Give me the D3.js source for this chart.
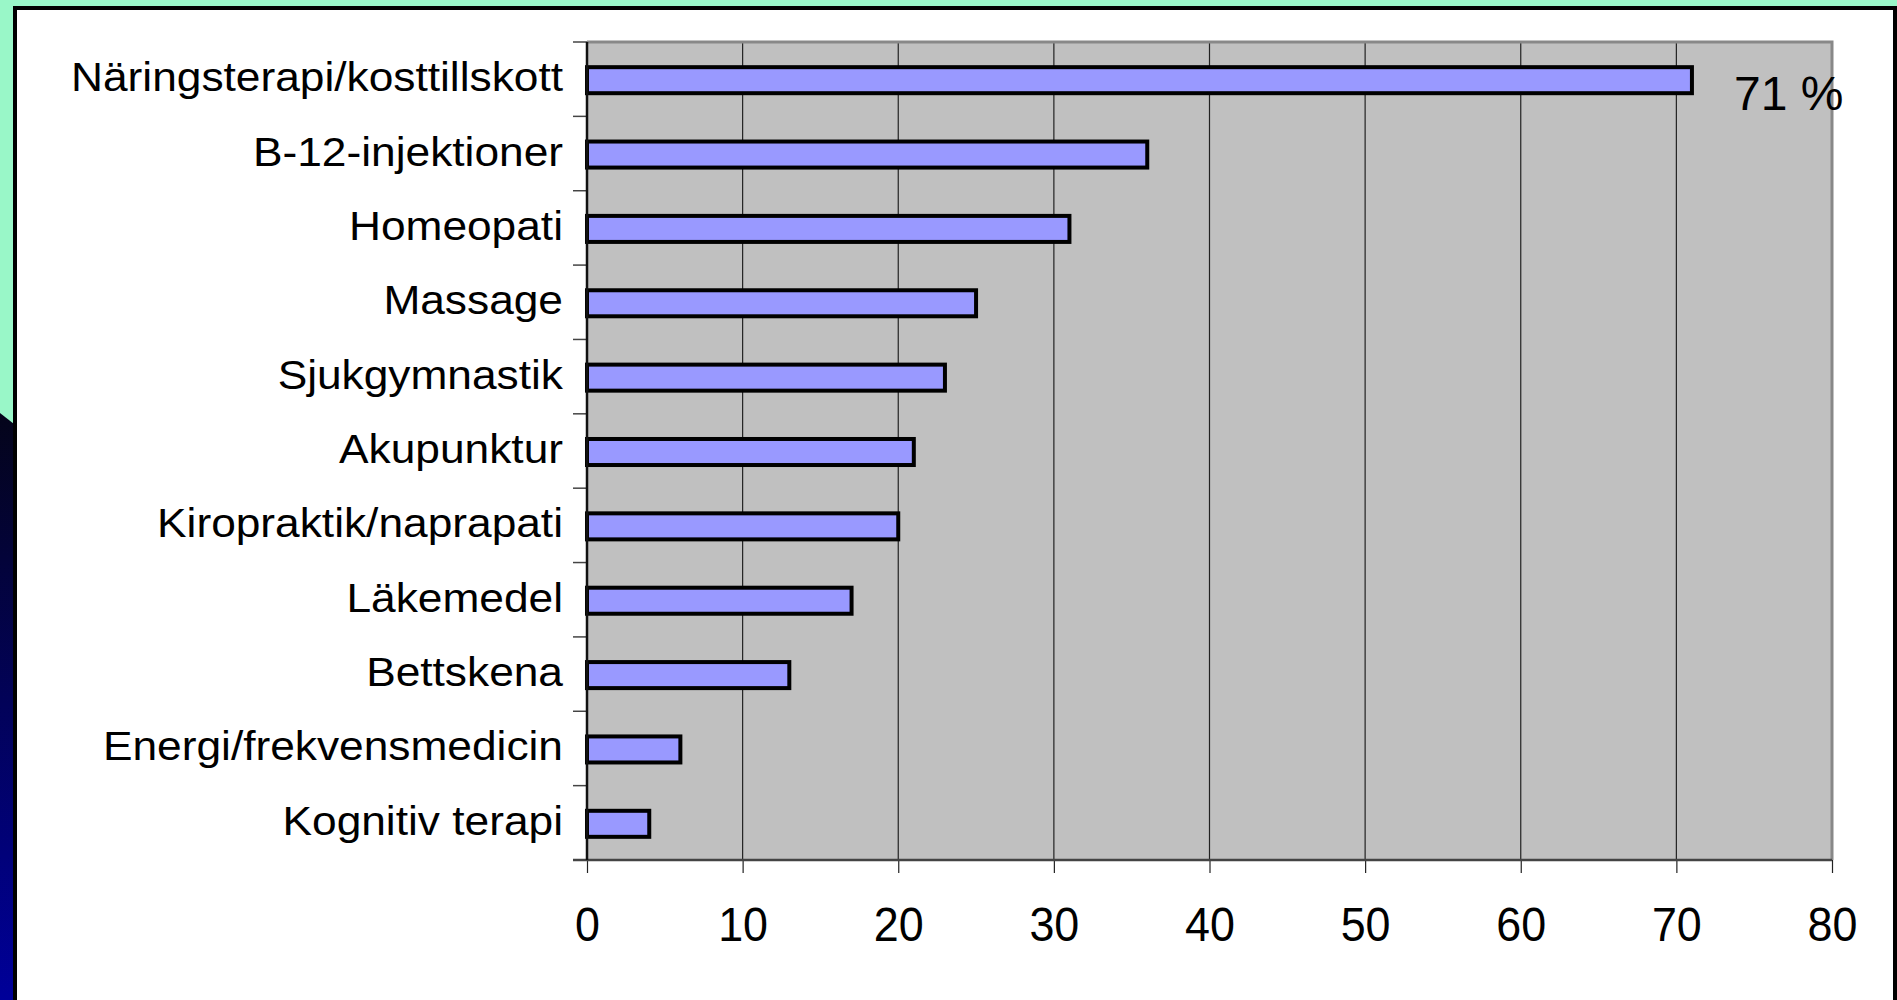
<!DOCTYPE html>
<html>
<head>
<meta charset="utf-8">
<script src="https://cdn.jsdelivr.net/npm/d3@7"></script>
<style>
  html, body { margin: 0; padding: 0; background: #99F7C8; }
  svg { display: block; }
  text { font-family: "Liberation Sans", Arial, sans-serif; fill: #000; }
</style>
</head>
<body>
<svg id="chart" width="1897" height="1000"></svg>
<script>
// ---- data ----
const categories = [
  "Näringsterapi/kosttillskott",
  "B-12-injektioner",
  "Homeopati",
  "Massage",
  "Sjukgymnastik",
  "Akupunktur",
  "Kiropraktik/naprapati",
  "Läkemedel",
  "Bettskena",
  "Energi/frekvensmedicin",
  "Kognitiv terapi"
];
const values = [71, 36, 31, 25, 23, 21, 20, 17, 13, 6, 4];
const xTicks = [0, 10, 20, 30, 40, 50, 60, 70, 80];
const xDomain = [0, 80];
const annotationText = "71 %";

// ---- layout ----
const W = 1897, H = 1000;
const plot = { left: 587, right: 1832, top: 42, bottom: 860 };

const svg = d3.select("#chart");

// background
svg.append("rect").attr("x", 0).attr("y", 0).attr("width", W).attr("height", H).attr("fill", "#99F7C8");

// left dark decoration
const defs = svg.append("defs");
const grad = defs.append("linearGradient").attr("id", "strip")
  .attr("x1", 0).attr("y1", 0).attr("x2", 0).attr("y2", 1);
grad.append("stop").attr("offset", "0%").attr("stop-color", "#04041a");
grad.append("stop").attr("offset", "100%").attr("stop-color", "#000099");
svg.append("polygon")
  .attr("points", "0,413 14,424 14,1000 0,1000")
  .attr("fill", "url(#strip)");

// white panel
svg.append("rect")
  .attr("x", 15).attr("y", 8).attr("width", 1880).attr("height", 1010)
  .attr("fill", "#ffffff").attr("stroke", "#000").attr("stroke-width", 4);

// scales
const x = d3.scaleLinear().domain(xDomain).range([plot.left, plot.right]);
const y = d3.scaleBand().domain(categories).range([plot.top, plot.bottom]).paddingInner(0).paddingOuter(0);

// plot background
svg.append("rect")
  .attr("x", x(xDomain[0])).attr("y", plot.top)
  .attr("width", x(xDomain[1]) - x(xDomain[0])).attr("height", plot.bottom - plot.top)
  .attr("fill", "#c0c0c0");

// gridlines
svg.append("g").selectAll("line")
  .data(xTicks.filter(t => t > xDomain[0] && t < xDomain[1]))
  .join("line")
  .attr("x1", d => x(d)).attr("x2", d => x(d))
  .attr("y1", plot.top).attr("y2", plot.bottom)
  .attr("stroke", "#222").attr("stroke-width", 1.2);

// plot top & right border (gray)
svg.append("path")
  .attr("d", `M${x(xDomain[0])},${plot.top}H${x(xDomain[1])}V${plot.bottom}`)
  .attr("fill", "none").attr("stroke", "#888").attr("stroke-width", 3);

// bars
const barFrac = 0.35;
svg.append("g").selectAll("rect")
  .data(categories.map((c, i) => ({ c, v: values[i] })))
  .join("rect")
  .attr("x", x(0))
  .attr("y", d => y(d.c) + y.bandwidth() * (0.5 - barFrac / 2) + 1)
  .attr("width", d => x(d.v) - x(0))
  .attr("height", y.bandwidth() * barFrac)
  .attr("fill", "#9999ff")
  .attr("stroke", "#000").attr("stroke-width", 4);

// category boundary ticks
const bounds = categories.map(c => y(c)).concat([y(categories[categories.length - 1]) + y.bandwidth()]);
svg.append("g").selectAll("line")
  .data(bounds)
  .join("line")
  .attr("x1", x(0) - 14).attr("x2", x(0))
  .attr("y1", d => d).attr("y2", d => d)
  .attr("stroke", "#444").attr("stroke-width", 1.5);

// x axis
const xAxis = d3.axisBottom(x).tickValues(xTicks).tickSize(13).tickSizeOuter(0).tickFormat(d3.format("d"));
const gx = svg.append("g").attr("transform", `translate(0,${plot.bottom})`).call(xAxis);
gx.select(".domain").remove();
gx.selectAll(".tick line").attr("stroke", "#222").attr("stroke-width", 1.2);
gx.selectAll(".tick text")
  .attr("x", 0)
  .attr("y", 0).attr("dy", 0)
  .attr("font-size", 44)
  .attr("font-family", "Liberation Sans, Arial, sans-serif")
  .attr("fill", "#000")
  .attr("transform", "translate(0,81) scale(1.02,1.08)");

// bottom axis line
svg.append("line")
  .attr("x1", x(0) - 14).attr("x2", x(xDomain[1]))
  .attr("y1", plot.bottom).attr("y2", plot.bottom)
  .attr("stroke", "#444").attr("stroke-width", 2.5);

// y axis line
svg.append("line")
  .attr("x1", x(0)).attr("x2", x(0))
  .attr("y1", plot.top).attr("y2", plot.bottom)
  .attr("stroke", "#111").attr("stroke-width", 2.5);

// category labels
svg.append("g").selectAll("text")
  .data(categories)
  .join("text")
  .attr("transform", d => `translate(${x(0) - 24},${y(d) + y.bandwidth() / 2 + 12}) scale(1.08,1)`)
  .attr("text-anchor", "end")
  .attr("font-size", 41)
  .text(d => d);

// annotation
svg.append("text")
  .attr("x", x(values[0]) + 42)
  .attr("y", 110)
  .attr("font-size", 48)
  .text(annotationText);
</script>
</body>
</html>
